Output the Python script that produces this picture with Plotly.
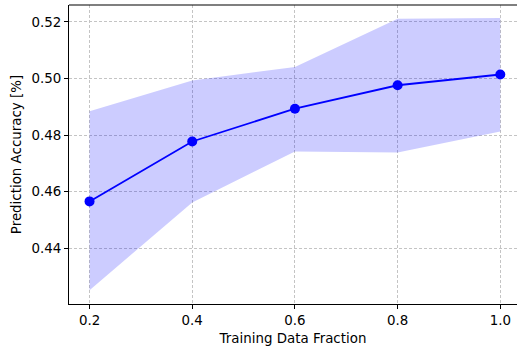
import plotly.graph_objects as go

fractions = [0.2, 0.4, 0.6, 0.8, 1.0]
mean_acc = [0.4565, 0.4777, 0.4893, 0.4976, 0.5014]
upper_acc = [0.4884, 0.4993, 0.5041, 0.5211, 0.5214]
lower_acc = [0.4251, 0.4561, 0.4742, 0.4738, 0.4812]
x_ticks = [0.2, 0.4, 0.6, 0.8, 1.0]
y_ticks = [0.44, 0.46, 0.48, 0.50, 0.52]

fig = go.Figure()
fig.add_trace(go.Scatter(
    x=fractions + fractions[::-1],
    y=upper_acc + lower_acc[::-1],
    fill="toself", fillcolor="rgba(0,0,255,0.2)",
    line=dict(width=0), mode="lines", hoverinfo="skip", showlegend=False))
fig.add_trace(go.Scatter(
    x=fractions, y=mean_acc, mode="lines+markers",
    line=dict(color="blue", width=1.8),
    marker=dict(color="blue", size=10), showlegend=False))

font = dict(family="DejaVu Sans", size=13.4, color="black")
axis_common = dict(
    showline=True, linecolor="black", linewidth=1.2, automargin=False,
    ticks="outside", ticklen=4, tickcolor="black", tickwidth=1,
    showgrid=True, gridcolor="#c4c4c4", griddash="3px,2px", gridwidth=0.8,
    zeroline=False, tickfont=font, title_font=font)

fig.update_layout(
    width=517, height=347,
    margin=dict(l=69, r=0, t=5, b=43),
    paper_bgcolor="white", plot_bgcolor="white",
    font=font,
    xaxis=dict(range=[0.16, 1.0325], tickvals=x_ticks,
               ticktext=["0.2", "0.4", "0.6", "0.8", "1.0"],
               title=dict(text="Training Data Fraction", standoff=6), **axis_common),
    yaxis=dict(range=[0.4202, 0.5260], tickvals=y_ticks,
               ticktext=["0.44", "0.46", "0.48", "0.50", "0.52"],
               title=dict(text="Prediction Accuracy [%]", standoff=6), **axis_common),
    shapes=[dict(type="line", xref="paper", yref="paper", x0=0, x1=1, y0=1, y1=1,
                 line=dict(color="black", width=1.2))],
)

fig.write_html("out.html", config={"displayModeBar": False},
               post_script="document.body.style.margin='0';document.body.style.overflow='hidden';")
